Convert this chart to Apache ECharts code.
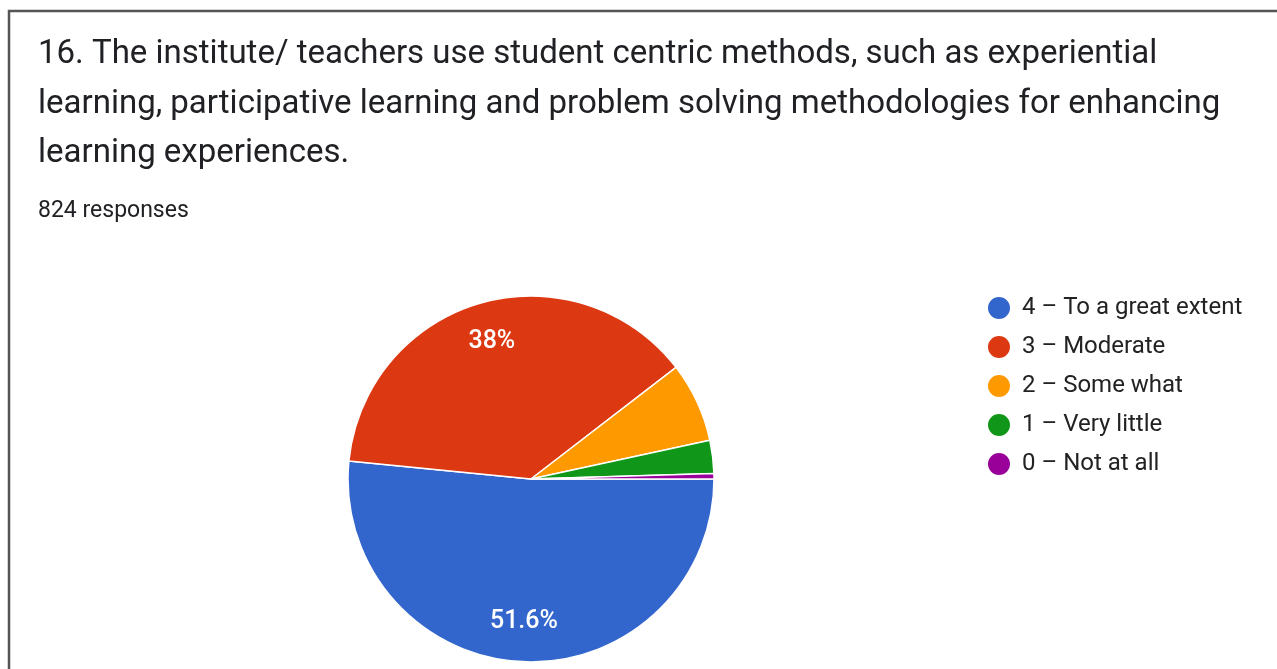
<!DOCTYPE html>
<html>
<head>
<meta charset="utf-8">
<script src="https://cdn.jsdelivr.net/npm/echarts@6/dist/echarts.min.js"></script>
<style>
  html, body { margin: 0; padding: 0; background: #fff; }
  #chart { width: 1277px; height: 669px; }
</style>
</head>
<body>
<div id="chart"></div>
<script>
var categories = ['4 – To a great extent', '3 – Moderate', '2 – Some what', '1 – Very little', '0 – Not at all'];
var counts = [425, 313, 58, 24, 4];
var colors = ['#3366cc', '#dc3912', '#ff9900', '#109618', '#990099'];
var titleText = '16. The institute/ teachers use student centric methods, such as experiential\n' +
  'learning, participative learning and problem solving methodologies for enhancing\n' +
  'learning experiences.';
var subText = '824 responses';

var chart = echarts.init(document.getElementById('chart'));

var total = counts.reduce(function (a, b) { return a + b; }, 0);
var pieData = categories.map(function (name, i) {
  return { name: name, value: counts[i] };
});

var option = {
  color: colors,
  backgroundColor: '#fff',
  animation: false,
  title: {
    text: titleText,
    subtext: subText,
    left: 38,
    top: 30,
    padding: 0,
    itemGap: 21,
    textStyle: {
      fontFamily: 'Roboto',
      fontSize: 33,
      fontWeight: 'normal',
      color: '#202124',
      lineHeight: 49.5
    },
    subtextStyle: {
      fontFamily: 'Roboto',
      fontSize: 23,
      color: '#202124',
      lineHeight: 24
    }
  },
  legend: {
    orient: 'vertical',
    left: 981,
    top: 290,
    icon: 'circle',
    itemWidth: 24,
    itemHeight: 24,
    itemGap: 13,
    data: categories,
    textStyle: {
      fontFamily: 'Roboto',
      fontSize: 24,
      color: '#222',
      lineHeight: 24,
      padding: [0, 0, 0, 6]
    }
  },
  graphic: [{
    type: 'polyline',
    shape: { points: [[9, 669], [9, 11], [1277, 11]] },
    style: { stroke: '#555', lineWidth: 2.5, fill: null }
  }],
  series: [{
    type: 'pie',
    center: [531, 479],
    radius: 183,
    startAngle: 0,
    clockwise: true,
    silent: true,
    label: { show: false },
    labelLine: { show: false },
    itemStyle: { borderColor: '#fff', borderWidth: 1.5 },
    data: pieData
  }, {
    // transparent ring only used to place the percent labels at ~3/4 radius
    type: 'pie',
    center: [531, 479],
    radius: [96, 183],
    startAngle: 0,
    clockwise: true,
    silent: true,
    itemStyle: { color: 'rgba(0,0,0,0)', borderWidth: 0 },
    labelLine: { show: false },
    label: {
      position: 'inside',
      fontFamily: 'Roboto',
      fontSize: 25,
      fontWeight: 500,
      color: '#fff',
      formatter: function (p) {
        var pct = p.value / total * 100;
        if (pct < 10) return '';
        return (Math.round(pct * 10) / 10) + '%';
      }
    },
    data: pieData
  }]
};

chart.setOption(option);
</script>
</body>
</html>
